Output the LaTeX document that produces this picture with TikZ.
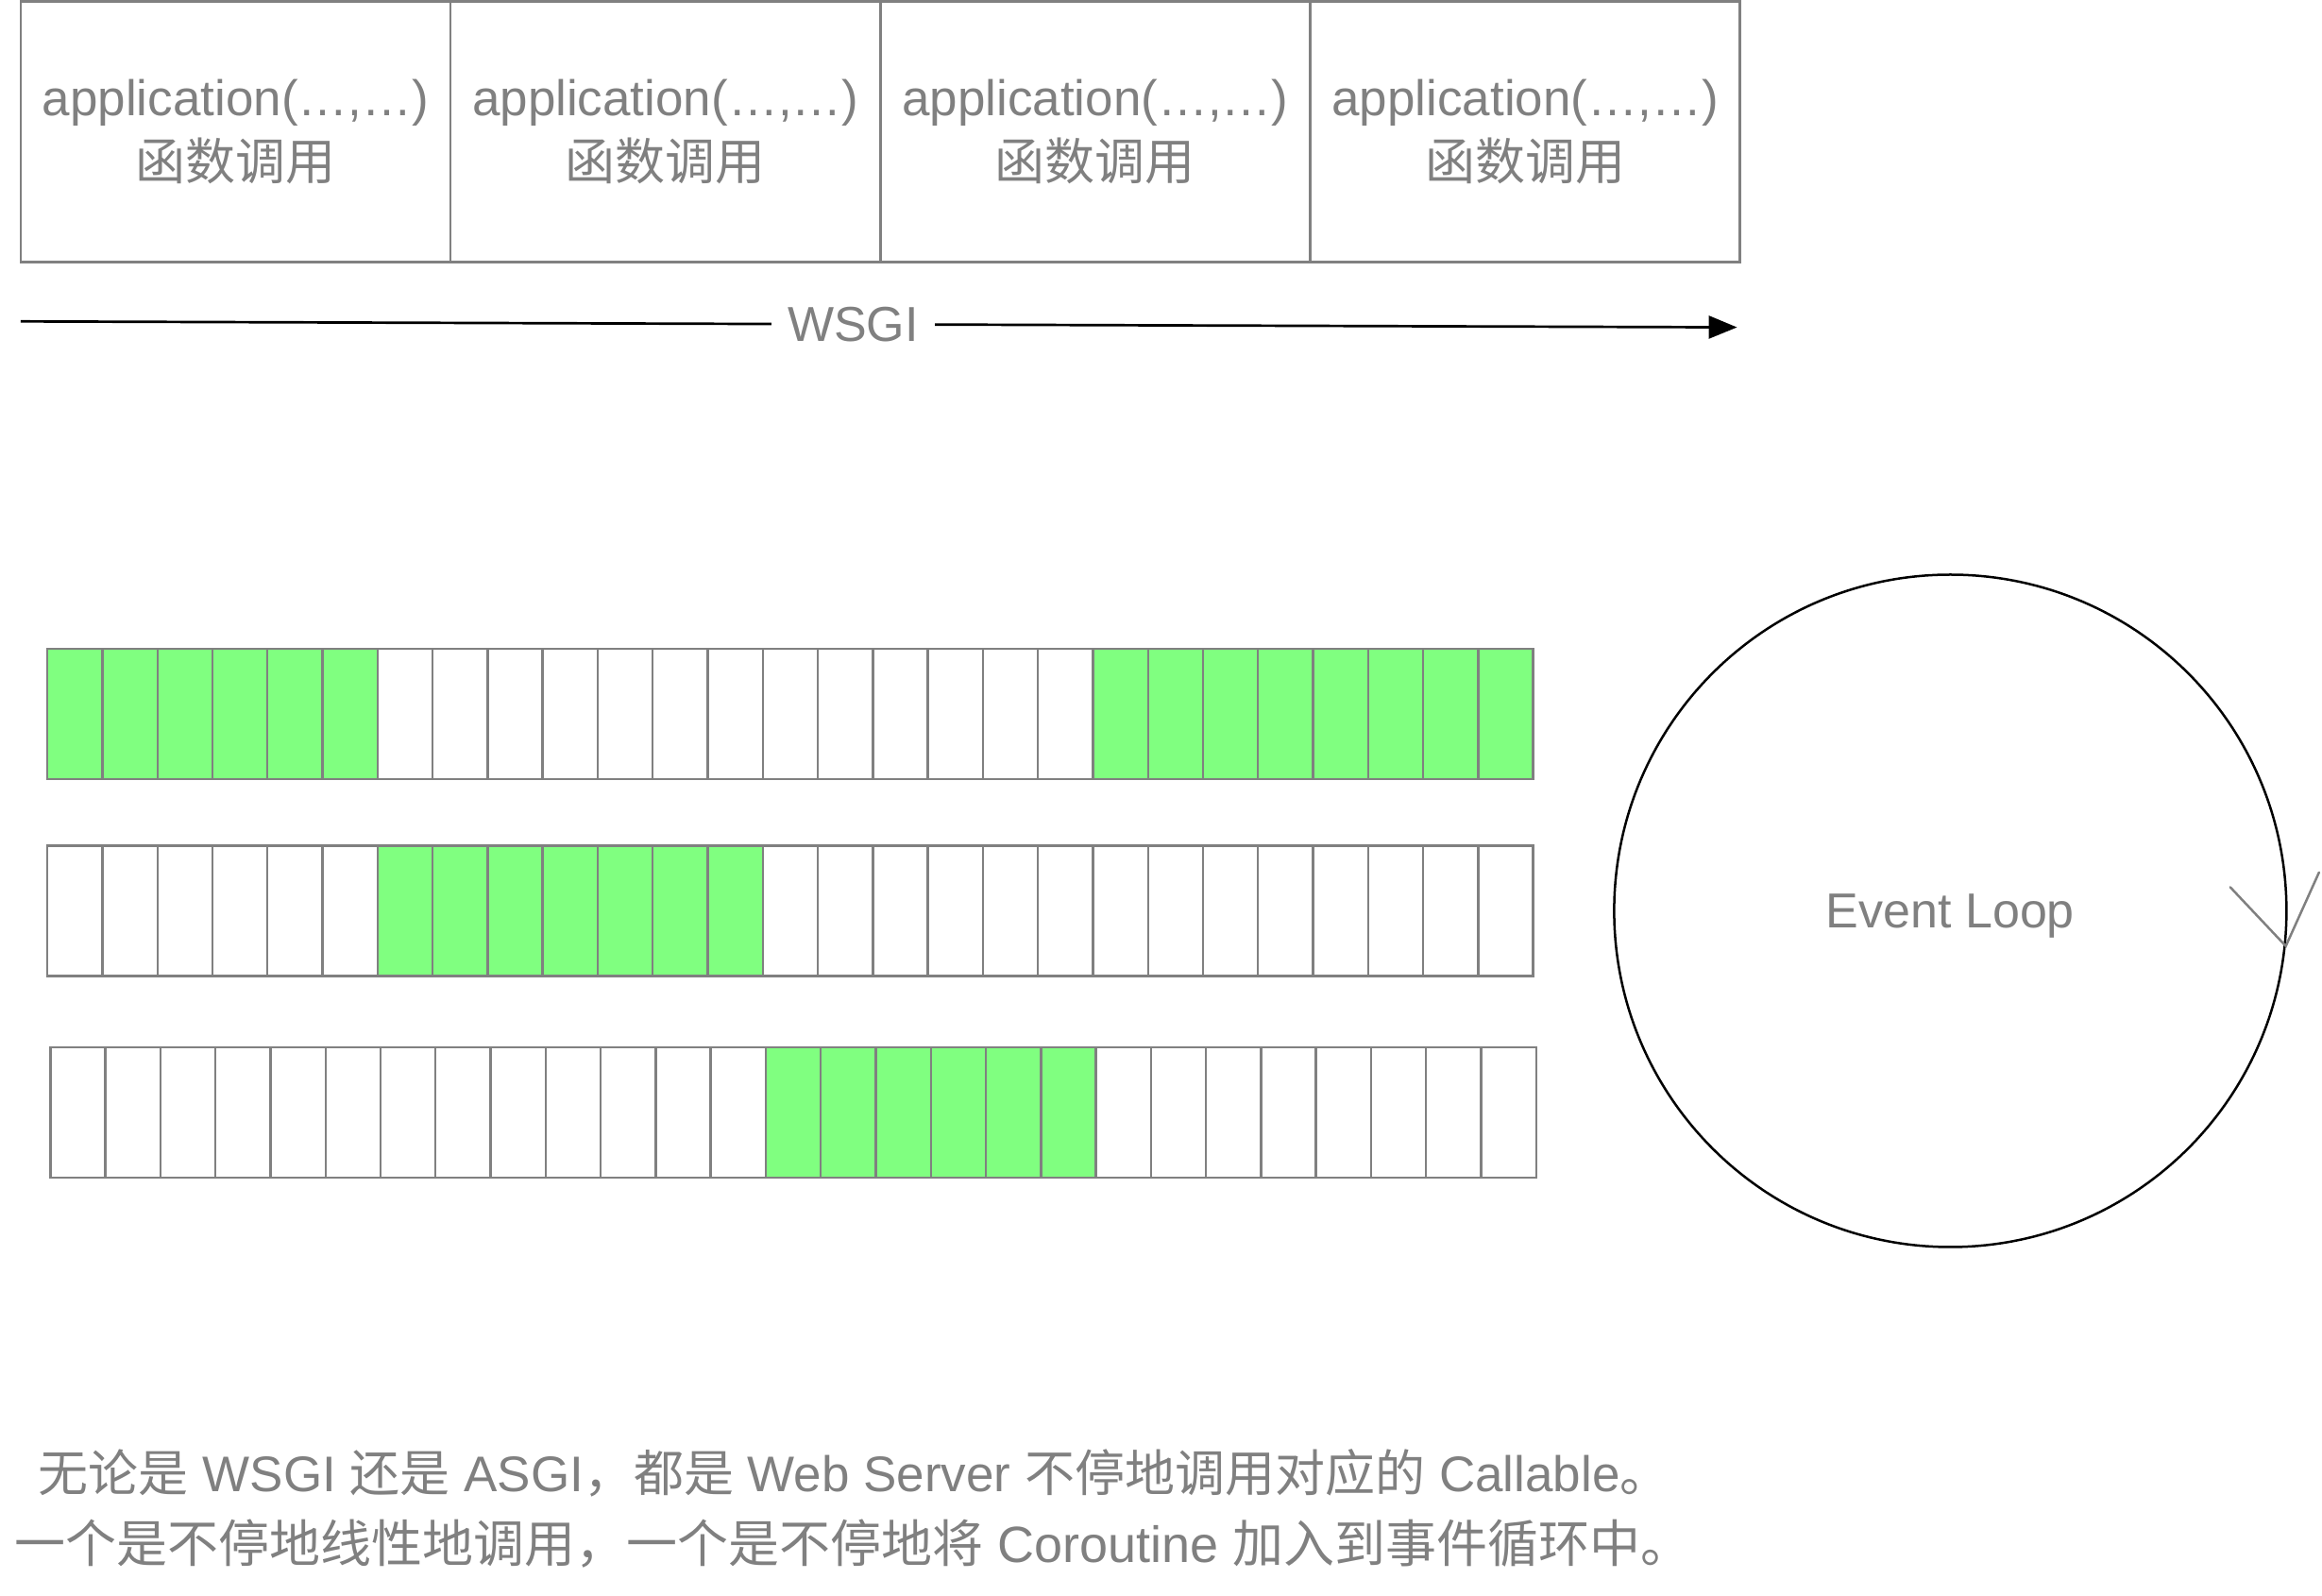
\documentclass[tikz,border=0pt]{standalone}
\usepackage{fontspec}
\setmainfont{Liberation Sans}
\newfontfamily\cjk{Noto Sans CJK SC}
\usetikzlibrary{arrows.meta}
\definecolor{linegray}{HTML}{808080}
\definecolor{txtgray}{HTML}{808080}
\definecolor{slotgreen}{HTML}{80FF80}
\begin{document}
\begin{tikzpicture}[x=1.5683pt,y=-1.5683pt,
  callbox/.style={draw=linegray, line width=2.5pt, minimum width=455.2pt, minimum height=276pt,
    inner sep=0pt, outer sep=0pt, align=center, text=txtgray, font=\fontsize{53}{67.5}\selectfont},
  slotline/.style={draw=linegray, line width=2.4pt},
  wsgiline/.style={draw=black, line width=2.7pt, -{Triangle[length=30pt,width=24pt]}},
  lbl/.style={text=txtgray, font=\fontsize{52}{60}\selectfont},
  note/.style={anchor=base west, inner sep=0pt, text=txtgray, font=\fontsize{53}{60}\selectfont},
  loopstyle/.style={circle, draw=black, line width=2.5pt, minimum size=712pt, inner sep=0pt},
  vmark/.style={draw=linegray, line width=2.5pt, line cap=round}
]
\useasboundingbox (0,0) rectangle (1568,1077);
\def\cw{37.16}

% top: four application calls
\node[callbox] (c1) at (159.1,89) {application(…,…)\\{\cjk 函数调用}};
\node[callbox] (c2) at (449.4,89) {application(…,…)\\{\cjk 函数调用}};
\node[callbox] (c3) at (739.6,89) {application(…,…)\\{\cjk 函数调用}};
\node[callbox] (c4) at (1029.9,89) {application(…,…)\\{\cjk 函数调用}};

% WSGI arrow
\coordinate (wsgiL) at (14,217);
\coordinate (wsgiR) at (1173,221);
\draw[wsgiline] (wsgiL) -- node[pos=0.485, fill=white, inner xsep=17pt, inner ysep=2pt, lbl] (wsgi) {WSGI} (wsgiR);

% row 1
\fill[slotgreen] (32,438) rectangle ({32+6*\cw},526);
\fill[slotgreen] ({32+19*\cw},438) rectangle ({32+27*\cw},526);
\foreach \i in {0,...,26} \draw[slotline] ({32+\i*\cw},438) rectangle ({32+(\i+1)*\cw},526);
% row 2
\fill[slotgreen] ({32+6*\cw},571) rectangle ({32+13*\cw},659);
\foreach \i in {0,...,26} \draw[slotline] ({32+\i*\cw},571) rectangle ({32+(\i+1)*\cw},659);
% row 3
\fill[slotgreen] ({34+13*\cw},707) rectangle ({34+19*\cw},795);
\foreach \i in {0,...,26} \draw[slotline] ({34+\i*\cw},707) rectangle ({34+(\i+1)*\cw},795);

% event loop
\node[loopstyle] (loop) at (1317,615) {};
\node[lbl, inner sep=0pt] (looptxt) at ([yshift=-6pt]loop.center) {Event Loop};
\coordinate (vtip) at (loop.-6);
\coordinate (vl) at (1506,599);
\coordinate (vr) at (1566,589);
\draw[vmark] (vl) -- (vtip) -- (vr);

% notes
\node[note] (note1) at (26,1007) {{\cjk 无论是} WSGI {\cjk 还是} ASGI{\cjk ，都是} Web Server {\cjk 不停地调用对应的} Callable{\cjk 。}};
\node[note, font=\fontsize{54}{60}\selectfont] (note2) at (10,1055) {{\cjk 一个是不停地线性地调用，一个是不停地将} Coroutine {\cjk 加入到事件循环中。}};
\end{tikzpicture}
\end{document}
